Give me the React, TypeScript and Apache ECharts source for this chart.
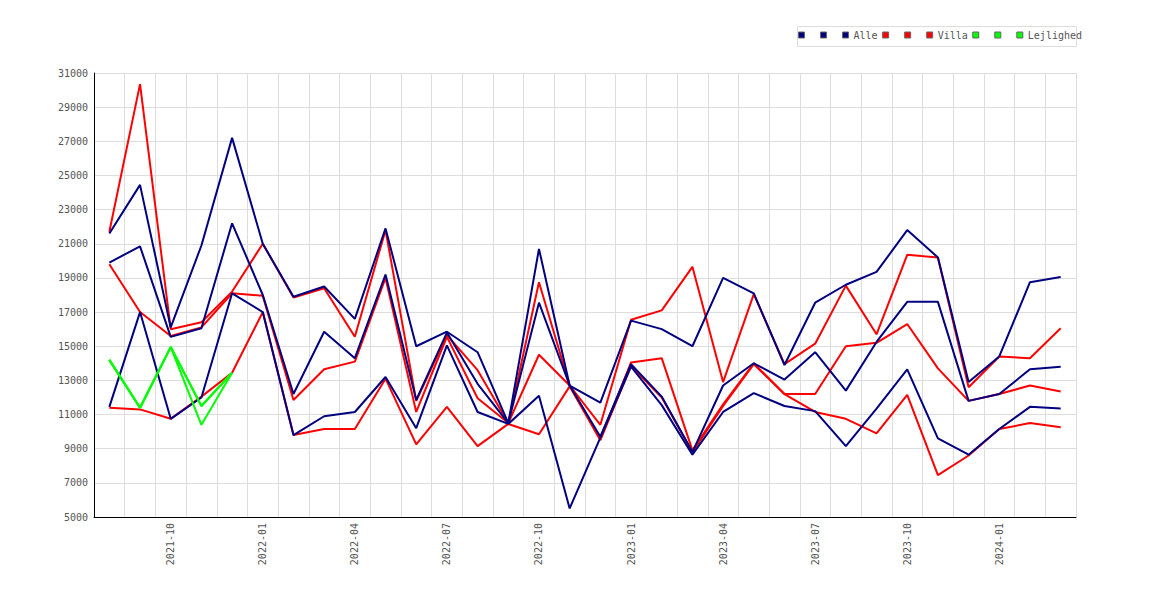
import { useEffect, useRef } from "react"
import * as echarts from "echarts"

// months shown on the category axis
const months = [
  "2021-08", "2021-09", "2021-10", "2021-11", "2021-12",
  "2022-01", "2022-02", "2022-03", "2022-04", "2022-05", "2022-06",
  "2022-07", "2022-08", "2022-09", "2022-10", "2022-11", "2022-12",
  "2023-01", "2023-02", "2023-03", "2023-04", "2023-05", "2023-06",
  "2023-07", "2023-08", "2023-09", "2023-10", "2023-11", "2023-12",
  "2024-01", "2024-02", "2024-03",
]

// Alle (navy) - upper, middle, lower line
const alleHigh = [
  21600, 24450, 16100, 20900, 27200, 21000, 17900, 18500, 16600, 21900, 15000,
  15850, 14650, 10500, 20700, 12700, 11700, 16500, 16000, 15000, 19000, 18100,
  13900, 17550, 18600, 19350, 21800, 20200, 12900, 14400, 18750, 19050,
]
const alleMid = [
  19900, 20850, 15550, 16050, 22200, 18000, 12200, 15850, 14300, 19200, 11850,
  15800, 12800, 10500, 17550, 12700, 9700, 13950, 12050, 8800, 12700, 14000,
  13050, 14650, 12400, 15250, 17600, 17600, 11800, 12200, 13650, 13800,
]
const alleLow = [
  11450, 17000, 10750, 12000, 18100, 17000, 9800, 10900, 11150, 13200, 10200,
  15050, 11150, 10450, 12100, 5500, 9650, 13800, 11550, 8650, 11150, 12250,
  11500, 11200, 9150, 11350, 13650, 9600, 8650, 10150, 11450, 11350,
]

// Villa (red)
const villaHigh = [
  21700, 30350, 16000, 16400, 18200, 21000, 17850, 18400, 15550, 21800, 11800,
  15650, 13600, 10500, 18750, 12700, 10400, 16550, 17100, 19650, 12900, 18050,
  13950, 15150, 18550, 15700, 20350, 20200, 12600, 14400, 14300, 16050,
]
const villaMid = [
  19800, 17000, 15600, 16100, 18100, 17950, 11850, 13650, 14100, 19000, 11150,
  15550, 11950, 10500, 14500, 12700, 9550, 14050, 14300, 8900, 11600, 14000,
  12200, 12200, 15000, 15200, 16300, 13700, 11800, 12200, 12700, 12350,
]
const villaLow = [
  11400, 11300, 10750, 12050, 13450, 17000, 9800, 10150, 10150, 13100, 9250,
  11450, 9150, 10450, 9850, 12650, 9500, 13850, 12000, 8800, 11500, 13950,
  12200, 11150, 10750, 9900, 12150, 7450, 8600, 10150, 10500, 10250,
]

// Lejlighed (green) - only the first months
const lejlHigh = [14200, 11400, 14950, 11500, 13450]
const lejlMid = [14200, 11400, 14950, 11500, 13450]
const lejlLow = [14200, 11400, 14950, 10400, 13450]

const yTicks = { min: 5000, max: 31000, step: 2000 }

const NAVY = "#000080"
const RED = "#ff0000"
const GREEN = "#00ff00"
const FONT = "DejaVu Sans Mono"
const TEXT = "#555555"

function lineSeries(name: string, data: number[], color: string, z: number) {
  return {
    name,
    type: "line",
    data,
    symbol: "none",
    z,
    lineStyle: { color, width: 2 },
    itemStyle: { color },
    emphasis: { disabled: true },
  }
}

export default function App() {
  const chartRef = useRef<HTMLDivElement>(null)

  useEffect(() => {
    if (!chartRef.current) return
    document.body.style.margin = "0"

    const chart = echarts.init(chartRef.current, null, { renderer: "svg" })

    const option = {
      animation: false,
      // legend frame (the legend text runs a little past it, as in the original)
      graphic: [
        {
          type: "rect",
          left: 797,
          top: 26,
          shape: { width: 279, height: 20 },
          style: { fill: "#ffffff", stroke: "#dddddd", lineWidth: 1 },
          z: -1,
        },
      ],
      legend: {
        right: 88,
        top: 30,
        padding: 0,
        itemWidth: 6,
        itemHeight: 6,
        itemGap: 4.5,
        icon: "rect",
        itemStyle: { borderColor: "#666666", borderWidth: 1 },
        textStyle: { fontFamily: FONT, fontSize: 10, color: TEXT },
        formatter: (name: string) => (name.includes("_") ? " " : name),
        data: [
          "Alle_1", "Alle_2", "Alle",
          "Villa_1", "Villa_2", "Villa",
          "Lejlighed_1", "Lejlighed_2", "Lejlighed",
        ],
      },
      grid: { left: 94, right: 94, top: 73, bottom: 83 },
      xAxis: {
        type: "category",
        data: months,
        boundaryGap: true,
        axisLine: { onZero: false, lineStyle: { color: "#000000", width: 1 } },
        axisTick: { show: false },
        axisLabel: {
          rotate: 90,
          margin: 6,
          fontFamily: FONT,
          fontSize: 10,
          color: TEXT,
          interval: (_i: number, v: string) => ["01", "04", "07", "10"].includes(v.slice(5)),
        },
        splitLine: { show: true, interval: 0, lineStyle: { color: "#dddddd", width: 1 } },
      },
      yAxis: {
        type: "value",
        min: yTicks.min,
        max: yTicks.max,
        interval: yTicks.step,
        axisLine: { show: true, lineStyle: { color: "#000000", width: 1 } },
        axisTick: { show: false },
        axisLabel: {
          margin: 6,
          fontFamily: FONT,
          fontSize: 10,
          color: TEXT,
          formatter: (v: number) => String(v),
        },
        splitLine: { show: true, lineStyle: { color: "#dddddd", width: 1 } },
      },
      series: [
        lineSeries("Alle_1", alleHigh, NAVY, 3),
        lineSeries("Alle_2", alleMid, NAVY, 3),
        lineSeries("Alle", alleLow, NAVY, 3),
        lineSeries("Villa_1", villaHigh, RED, 2),
        lineSeries("Villa_2", villaMid, RED, 2),
        lineSeries("Villa", villaLow, RED, 2),
        lineSeries("Lejlighed_1", lejlHigh, GREEN, 4),
        lineSeries("Lejlighed_2", lejlMid, GREEN, 4),
        lineSeries("Lejlighed", lejlLow, GREEN, 4),
      ],
    }

    chart.setOption(option)

    return () => {
      chart.dispose()
    }
  }, [])

  return <div ref={chartRef} style={{ width: "1170px", height: "600px" }} />
}
